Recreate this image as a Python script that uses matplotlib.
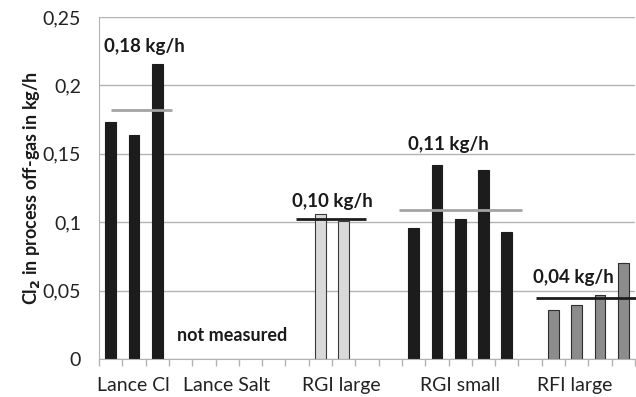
import matplotlib
matplotlib.use("Agg")
import matplotlib.pyplot as plt
import numpy as np

plt.rcParams["font.family"] = ["Lato", "DejaVu Sans"]

# measured Cl2 values per run, kg/h
lance_cl = [0.173, 0.164, 0.216]
rgi_large = [0.106, 0.101]
rgi_small = [0.096, 0.1415, 0.102, 0.138, 0.093]
rfi_large = [0.0355, 0.0398, 0.0466, 0.070]

# mean value per series
mean_lance_cl = 0.182
mean_rgi_large = 0.1025
mean_rgi_small = 0.1086
mean_rfi_large = 0.0449

group_labels = ["Lance Cl", "Lance Salt", "RGI large", "RGI small", "RFI large"]
y_ticks = [0, 0.05, 0.1, 0.15, 0.2, 0.25]
y_tick_labels = ["0", "0,05", "0,1", "0,15", "0,2", "0,25"]

n_slots = 23
BLACK = "#1c1c1c"
LIGHT = "#d9d9d9"
MID = "#8c8c8c"
GRID = "#b3b3b3"
MEAN_GRAY = "#a3a3a3"

fig = plt.figure(figsize=(6.36, 3.97), dpi=100)
ax = fig.add_axes([99 / 636, 38 / 397, 536 / 636, 342 / 397])

width = 0.46
series = [
    (lance_cl, 0, BLACK, BLACK),
    (rgi_large, 9, LIGHT, "#3a3a3a"),
    (rgi_small, 13, BLACK, BLACK),
    (rfi_large, 19, MID, "#2e2e2e"),
]
for vals, start, fc, ec in series:
    xs = np.arange(start, start + len(vals))
    ax.bar(xs, vals, width=width, color=fc, edgecolor=ec, linewidth=0.8, zorder=3)

# mean lines with labels
means = [
    (mean_lance_cl, 0.0, 2.65, MEAN_GRAY, 1.45, 0.2284),
    (mean_rgi_large, 7.94, 10.95, BLACK, 9.5, 0.1153),
    (mean_rgi_small, 12.38, 17.67, MEAN_GRAY, 14.5, 0.1567),
    (mean_rfi_large, 18.24, 22.6, BLACK, 19.84, 0.0598),
]
for m, x0, x1, col, tx, ty in means:
    ax.plot([x0, x1], [m, m], color=col, lw=2, zorder=4, solid_capstyle="butt", clip_on=False)
    ax.text(tx, ty, f"{m:.2f} kg/h".replace(".", ","), ha="center", va="center",
            fontsize=13.5, fontweight="bold", color="#1a1a1a")

ax.text(5.2, 0.0175, "not measured", ha="center", va="center",
        fontsize=13, fontweight="bold", color="#1a1a1a")

ax.set_xlim(-0.5, n_slots - 0.5)
ax.set_ylim(0, 0.25)
ax.set_yticks(y_ticks)
ax.set_yticklabels(y_tick_labels, fontsize=14, color="#222222")
ax.tick_params(axis="y", length=0, pad=13)
ax.yaxis.grid(True, color=GRID, lw=1, zorder=0)

# category boundaries as tick marks, group names as labels
ax.set_xticks(np.arange(-0.5, n_slots, 1.0), minor=True)
ax.set_xticks([0.96, 4.98, 9.9, 15.0, 19.9])
ax.set_xticklabels(group_labels, fontsize=14, color="#222222")
ax.tick_params(axis="x", which="major", length=0, pad=13)
ax.tick_params(axis="x", which="minor", length=5, color=GRID, width=1)

for side in ["top", "right"]:
    ax.spines[side].set_visible(False)
ax.spines["left"].set_color(GRID)
ax.spines["bottom"].set_color(GRID)
ax.spines["bottom"].set_zorder(5)

ax.set_ylabel(r"Cl$_\mathbf{2}$ in process off-gas in kg/h", fontsize=13,
              fontweight="bold", color="#1a1a1a", labelpad=0)

fig.savefig("out.png", dpi=100)
